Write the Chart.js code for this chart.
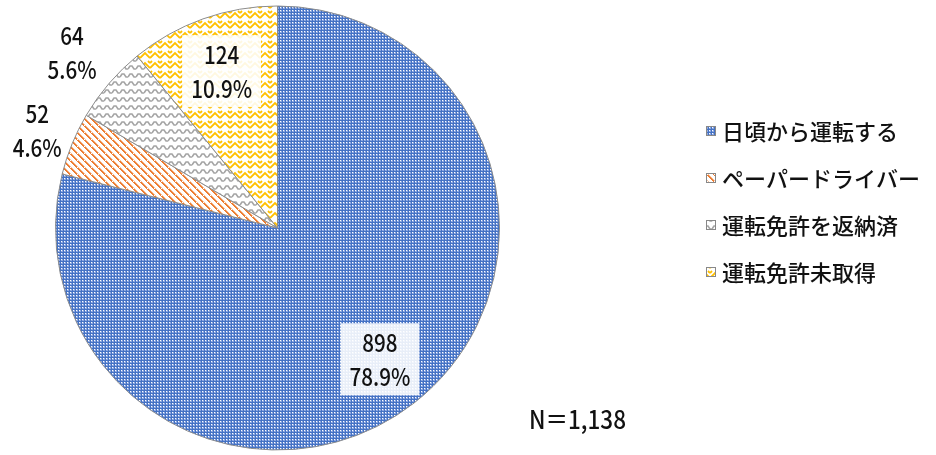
<!DOCTYPE html>
<html lang="ja">
<head>
  <meta charset="UTF-8">
  <title>運転状況</title>
  <style>
    * {
      margin: 0;
      padding: 0;
      box-sizing: border-box;
    }

    body {
      background-color: #fff;
      width: 936px;
      height: 455px;
      overflow: hidden;
    }

    #wrap {
      position: relative;
      width: 936px;
      height: 455px;
    }
  </style>
  <script src="https://cdn.jsdelivr.net/npm/chart.js"></script>
</head>
<body>
  <div id="wrap">
    <canvas id="driveChart" width="936" height="455"></canvas>
  </div>

  <script>
    const categories = ['日頃から運転する', 'ペーパードライバー', '運転免許を返納済', '運転免許未取得'];
    const counts = [898, 52, 64, 124];
    const percents = [78.9, 4.6, 5.6, 10.9];
    const totalLabel = 'N＝1,138';

    const baseColors = ['#4472C4', '#ED7D31', '#A5A5A5', '#FFC000'];
    // how far out each value label sits, as a share of the radius
    const labelRadius = [0.75, 1.17, 1.22, 0.75];
    const labelBoxed = [true, false, false, true];

    const FONT = '"Noto Sans CJK JP", "Noto Sans", sans-serif';

    // Small tiles used as fills for the slices
    function makeTile(size, draw) {
      const c = document.createElement('canvas');
      c.width = size;
      c.height = size;
      const g = c.getContext('2d');
      g.fillStyle = '#fff';
      g.fillRect(0, 0, size, size);
      draw(g, size);
      return c;
    }

    function checkerTile(color) {
      return makeTile(3, (g) => {
        g.fillStyle = '#8ea8e0';
        g.fillRect(1, 1, 2, 2);
        g.fillStyle = color;
        g.fillRect(0, 0, 3, 1);
        g.fillRect(0, 0, 1, 3);
        g.fillStyle = '#fff';
        g.fillRect(1, 1, 1, 1);
      });
    }

    function diagonalTile(color) {
      return makeTile(7, (g, s) => {
        for (let y = 0; y < s; y++) {
          g.fillStyle = color;
          g.fillRect(y, y, 2, 1);
          g.fillStyle = '#f7c4a0';
          g.fillRect((y + 2) % s, y, 1, 1);
        }
      });
    }

    function waveTile(color) {
      return makeTile(8, (g) => {
        g.strokeStyle = color;
        g.lineWidth = 1.6;
        g.beginPath();
        g.moveTo(0, 5);
        g.lineTo(2, 2);
        g.lineTo(4, 2);
        g.lineTo(6, 5);
        g.lineTo(8, 5);
        g.stroke();
      });
    }

    function zigzagTile(color) {
      return makeTile(10, (g) => {
        g.strokeStyle = color;
        g.lineWidth = 1.8;
        g.beginPath();
        g.moveTo(0, 8);
        g.lineTo(5, 3);
        g.lineTo(10, 8);
        g.stroke();
        g.beginPath();
        g.moveTo(0, 3);
        g.lineTo(2, 1);
        g.moveTo(8, 1);
        g.lineTo(10, 3);
        g.stroke();
      });
    }

    const ctx = document.getElementById('driveChart').getContext('2d');
    const tiles = [
      checkerTile(baseColors[0]),
      diagonalTile(baseColors[1]),
      waveTile(baseColors[2]),
      zigzagTile(baseColors[3])
    ];
    const fills = tiles.map(t => ctx.createPattern(t, 'repeat'));

    // narrow figures, like the digits in the original typeface
    function narrowText(c, text, x, y, sx) {
      c.save();
      c.translate(x, y);
      c.scale(sx, 1);
      c.fillText(text, 0, 0);
      c.restore();
    }

    // value labels and the legend drawn by hand
    const annotate = {
      id: 'annotate',
      afterDatasetsDraw(chart) {
        const c = chart.ctx;
        const arcs = chart.getDatasetMeta(0).data;
        const sx = 0.86;
        c.save();
        c.textAlign = 'center';
        c.textBaseline = 'middle';
        c.font = '500 24px ' + FONT;
        arcs.forEach((arc, i) => {
          const mid = (arc.startAngle + arc.endAngle) / 2;
          const r = arc.outerRadius * labelRadius[i];
          const x = arc.x + Math.cos(mid) * r;
          const y = arc.y + Math.sin(mid) * r;
          const line1 = String(counts[i]);
          const line2 = percents[i].toFixed(1) + '%';
          if (labelBoxed[i]) {
            const w = Math.max(c.measureText(line1).width, c.measureText(line2).width) * sx + 18;
            c.fillStyle = 'rgba(255,255,255,0.88)';
            c.fillRect(x - w / 2, y - 36, w, 72);
          }
          c.fillStyle = '#111';
          narrowText(c, line1, x, y - 16, sx);
          narrowText(c, line2, x, y + 18, sx);
        });

        // legend
        c.textAlign = 'left';
        c.font = '500 22px ' + FONT;
        categories.forEach((name, i) => {
          const y = 131 + i * 47;
          c.fillStyle = fills[i];
          c.fillRect(706, y - 5, 10, 10);
          c.strokeStyle = '#888';
          c.lineWidth = 1;
          c.strokeRect(706.5, y - 4.5, 9, 9);
          c.fillStyle = '#111';
          c.fillText(name, 722, y + 1);
        });

        c.font = '500 25px ' + FONT;
        narrowText(c, totalLabel, 529, 419, 0.9);
        c.restore();
      }
    };

    new Chart(ctx, {
      type: 'pie',
      data: {
        labels: categories,
        datasets: [{
          data: counts,
          backgroundColor: fills,
          borderColor: '#8c8c8c',
          borderWidth: 1
        }]
      },
      options: {
        responsive: false,
        animation: false,
        layout: {
          padding: { left: 55, right: 436, top: 5, bottom: 4 }
        },
        plugins: {
          legend: { display: false },
          tooltip: { enabled: false }
        }
      },
      plugins: [annotate]
    });
  </script>
</body>
</html>
